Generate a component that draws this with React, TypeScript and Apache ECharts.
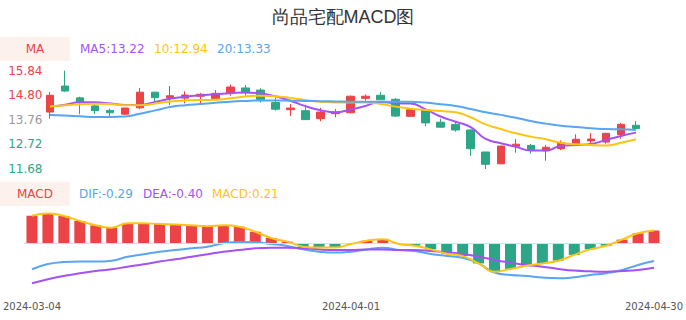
import React, { useEffect, useRef } from 'react';
import * as echarts from 'echarts';

const title = '尚品宅配MACD图';

const dates = [
  '2024-03-04', '2024-03-05', '2024-03-06', '2024-03-07', '2024-03-08',
  '2024-03-11', '2024-03-12', '2024-03-13', '2024-03-14', '2024-03-15',
  '2024-03-18', '2024-03-19', '2024-03-20', '2024-03-21', '2024-03-22',
  '2024-03-25', '2024-03-26', '2024-03-27', '2024-03-28', '2024-03-29',
  '2024-04-01', '2024-04-02', '2024-04-03', '2024-04-08', '2024-04-09',
  '2024-04-10', '2024-04-11', '2024-04-12', '2024-04-15', '2024-04-16',
  '2024-04-17', '2024-04-18', '2024-04-19', '2024-04-22', '2024-04-23',
  '2024-04-24', '2024-04-25', '2024-04-26', '2024-04-29', '2024-04-30',
];

const opens = [
  14.09, 15.19, 14.69, 14.35, 14.16, 14.0, 14.27, 14.93, 14.7, 14.68,
  14.76, 14.66, 14.88, 15.11, 15.02, 14.49, 14.19, 14.15, 13.81, 14.02,
  14.06, 14.67, 14.8, 14.63, 13.91, 14.19, 13.66, 13.56, 13.33, 12.4,
  11.9, 12.64, 12.68, 12.45, 12.54, 12.73, 12.87, 12.82, 13.13, 13.53,
];
const closes = [
  14.8, 14.98, 14.5, 14.15, 14.06, 14.26, 14.93, 14.7, 14.78, 14.81,
  14.84, 14.88, 15.15, 14.91, 14.61, 14.21, 14.26, 13.77, 14.09, 14.08,
  14.76, 14.76, 14.61, 13.92, 14.19, 13.63, 13.45, 13.33, 12.54, 11.88,
  12.65, 12.73, 12.48, 12.6, 12.79, 12.94, 12.95, 13.19, 13.57, 13.39,
];
const lows = [
  13.81, 14.94, 14.0, 14.01, 13.91, 13.97, 14.21, 14.49, 14.38, 14.46,
  14.47, 14.63, 14.78, 14.77, 14.49, 14.15, 13.92, 13.76, 13.7, 13.87,
  14.04, 14.57, 14.6, 13.88, 13.89, 13.49, 13.44, 13.26, 12.24, 11.68,
  11.89, 12.37, 12.33, 12.03, 12.48, 12.71, 12.74, 12.75, 12.96, 13.38,
];
const highs = [
  14.94, 15.84, 14.74, 14.52, 14.23, 14.27, 15.11, 14.95, 15.19, 14.97,
  14.9, 15.02, 15.26, 15.23, 15.1, 14.7, 14.43, 14.4, 14.27, 14.22,
  14.79, 14.84, 14.94, 14.68, 14.21, 14.2, 13.81, 13.67, 13.36, 12.41,
  12.66, 12.95, 12.74, 12.7, 12.89, 13.15, 13.2, 13.21, 13.63, 13.71,
];

const ma5 = [
  14.3, 14.4, 14.5, 14.5, 14.45, 14.39, 14.4, 14.52, 14.65, 14.74,
  14.8, 14.84, 14.89, 14.92, 14.88, 14.76, 14.57, 14.34, 14.17, 14.08,
  14.2, 14.35, 14.52, 14.46, 14.45, 14.2, 13.9, 13.68, 13.45, 12.95,
  12.77, 12.62, 12.46, 12.46, 12.66, 12.7, 12.74, 12.91, 13.08, 13.22,
];
const ma10 = [
  14.33, 14.38, 14.42, 14.44, 14.43, 14.38, 14.38, 14.45, 14.54, 14.58,
  14.6, 14.61, 14.67, 14.75, 14.78, 14.76, 14.69, 14.6, 14.53, 14.49,
  14.49, 14.49, 14.43, 14.32, 14.23, 14.18, 14.13, 14.08, 13.87, 13.57,
  13.37, 13.19, 13.05, 12.94, 12.79, 12.73, 12.7, 12.67, 12.79, 12.94,
];
const ma20 = [
  13.97, 13.94, 13.91, 13.88, 13.88, 13.9, 14.02, 14.16, 14.3, 14.38,
  14.43, 14.48, 14.53, 14.56, 14.58, 14.58, 14.57, 14.56, 14.55, 14.54,
  14.53, 14.53, 14.53, 14.53, 14.53, 14.49, 14.42, 14.35, 14.22, 14.08,
  13.97, 13.85, 13.71, 13.6, 13.51, 13.46, 13.4, 13.37, 13.36, 13.33,
];

const dif = [
  -0.426, -0.34, -0.307, -0.3, -0.3, -0.285, -0.22, -0.18, -0.137, -0.11,
  -0.082, -0.055, 0.0, 0.02, 0.016, -0.011, -0.044, -0.1, -0.137, -0.153,
  -0.137, -0.1, -0.072, -0.11, -0.126, -0.175, -0.208, -0.236, -0.328, -0.48,
  -0.52, -0.536, -0.563, -0.574, -0.557, -0.52, -0.49, -0.437, -0.355, -0.29,
];
const dea = [
  -0.656, -0.59, -0.536, -0.49, -0.454, -0.426, -0.383, -0.344, -0.3, -0.262,
  -0.22, -0.18, -0.137, -0.11, -0.082, -0.072, -0.072, -0.08, -0.1, -0.11,
  -0.11, -0.1, -0.1, -0.11, -0.11, -0.126, -0.148, -0.175, -0.22, -0.273,
  -0.317, -0.355, -0.383, -0.42, -0.448, -0.46, -0.465, -0.454, -0.437, -0.4,
];
const macd = [
  0.452, 0.49, 0.448, 0.366, 0.295, 0.256, 0.328, 0.328, 0.316, 0.31,
  0.295, 0.279, 0.295, 0.273, 0.19, 0.087, 0.027, -0.055, -0.07, -0.07,
  -0.01, 0.043, 0.068, -0.01, -0.04, -0.1, -0.17, -0.21, -0.33, -0.465,
  -0.42, -0.37, -0.33, -0.285, -0.19, -0.1, -0.04, 0.06, 0.164, 0.21,
];

const priceTicks = ['11.68', '12.72', '13.76', '14.80', '15.84'];
const xLabelIndexes = [0, 20, 39];

const RED = '#eb4346';
const GREEN = '#2ca687';
const PURPLE = '#a451f5';
const YELLOW = '#fdc414';
const BLUE = '#58a5f2';
const BOXBG = '#fdf1ed';
const FONT = 'DejaVu Sans';

export default function App() {
  const ref = useRef<HTMLDivElement>(null);
  useEffect(() => {
    document.body.style.margin = '0';
    const chart = echarts.init(ref.current!, null, { renderer: 'svg' });
    const last = (a: number[]) => a[a.length - 1].toFixed(2);
    const mid = Number(priceTicks[2]);
    const legendText = (text: string, x: number, y: number, fill: string) => ({
      type: 'text', x, y, style: { text, fill, fontSize: 12, fontFamily: FONT, verticalAlign: 'middle' },
    });
    const option: any = {
      animation: false,
      title: {
        text: title, left: 'center', top: 3,
        textStyle: { fontSize: 18, fontWeight: 'normal', color: '#333', fontFamily: 'sans-serif' },
      },
      graphic: [
        { type: 'rect', shape: { x: 0, y: 37, width: 70, height: 24 }, style: { fill: BOXBG } },
        { type: 'text', x: 35, y: 49, style: { text: 'MA', fill: RED, fontSize: 12, fontFamily: FONT, align: 'center', verticalAlign: 'middle' } },
        legendText(`MA5:${last(ma5)}`, 80, 49, PURPLE),
        legendText(`10:${last(ma10)}`, 154, 49, YELLOW),
        legendText(`20:${last(ma20)}`, 217, 49, BLUE),
        { type: 'rect', shape: { x: 0, y: 182, width: 70, height: 24 }, style: { fill: BOXBG } },
        { type: 'text', x: 35, y: 194, style: { text: 'MACD', fill: RED, fontSize: 12, fontFamily: FONT, align: 'center', verticalAlign: 'middle' } },
        legendText(`DIF:${last(dif)}`, 79, 194, BLUE),
        legendText(`DEA:${last(dea)}`, 143, 194, PURPLE),
        legendText(`MACD:${last(macd)}`, 212, 194, YELLOW),
      ],
      grid: [
        { left: 42.5, right: 42.5, top: 70.7, height: 98.3 },
        { left: 20, right: 21, top: 205, height: 90 },
      ],
      xAxis: [
        {
          type: 'category', data: dates, gridIndex: 0, boundaryGap: true,
          axisLine: { show: false }, axisTick: { show: false }, axisLabel: { show: false }, splitLine: { show: false },
        },
        {
          type: 'category', data: dates, gridIndex: 1, boundaryGap: true,
          axisLine: { show: false }, axisTick: { show: false }, splitLine: { show: false },
          axisLabel: {
            interval: (i: number) => xLabelIndexes.includes(i),
            color: '#555', fontSize: 10, margin: 6, fontFamily: FONT,
          },
        },
      ],
      yAxis: [
        {
          type: 'value', gridIndex: 0, min: Number(priceTicks[0]), max: Number(priceTicks[4]),
          axisLine: { show: false }, axisTick: { show: false }, axisLabel: { show: false }, splitLine: { show: false },
        },
        {
          type: 'category', gridIndex: 0, data: priceTicks, boundaryGap: false, position: 'left',
          axisLine: { show: false }, axisTick: { show: false }, splitLine: { show: false },
          axisLabel: {
            margin: 0, fontSize: 12, fontFamily: FONT,
            color: (v: string) => (Number(v) > mid ? RED : Number(v) < mid ? GREEN : '#999'),
          },
        },
        {
          type: 'value', gridIndex: 1, min: -0.848, max: 0.628,
          axisLine: { show: false }, axisTick: { show: false }, axisLabel: { show: false }, splitLine: { show: false },
        },
      ],
      series: [
        {
          type: 'candlestick', xAxisIndex: 0, yAxisIndex: 0, barWidth: 8,
          data: dates.map((_, i) => [opens[i], closes[i], lows[i], highs[i]]),
          itemStyle: { color: RED, color0: GREEN, borderColor: RED, borderColor0: GREEN, borderWidth: 1 },
        },
        { type: 'line', xAxisIndex: 0, yAxisIndex: 0, data: ma5, smooth: true, symbol: 'none', lineStyle: { color: PURPLE, width: 2 } },
        { type: 'line', xAxisIndex: 0, yAxisIndex: 0, data: ma10, smooth: true, symbol: 'none', lineStyle: { color: YELLOW, width: 2 } },
        { type: 'line', xAxisIndex: 0, yAxisIndex: 0, data: ma20, smooth: true, symbol: 'none', lineStyle: { color: BLUE, width: 2 } },
        {
          type: 'bar', xAxisIndex: 1, yAxisIndex: 2, data: macd, barWidth: 11,
          itemStyle: { color: (p: any) => (p.value >= 0 ? RED : GREEN) },
          markLine: {
            silent: true, symbol: 'none', data: [{ yAxis: 0 }],
            lineStyle: { color: '#ddd', width: 1, type: 'solid' }, label: { show: false },
          },
        },
        { type: 'line', xAxisIndex: 1, yAxisIndex: 2, data: dif, smooth: true, symbol: 'none', lineStyle: { color: BLUE, width: 2 } },
        { type: 'line', xAxisIndex: 1, yAxisIndex: 2, data: dea, smooth: true, symbol: 'none', lineStyle: { color: PURPLE, width: 2 } },
        { type: 'line', xAxisIndex: 1, yAxisIndex: 2, data: macd, smooth: true, symbol: 'none', lineStyle: { color: YELLOW, width: 2 }, z: 5 },
      ],
    };
    chart.setOption(option);
    return () => chart.dispose();
  }, []);
  return <div ref={ref} style={{ width: 686, height: 320 }} />;
}
